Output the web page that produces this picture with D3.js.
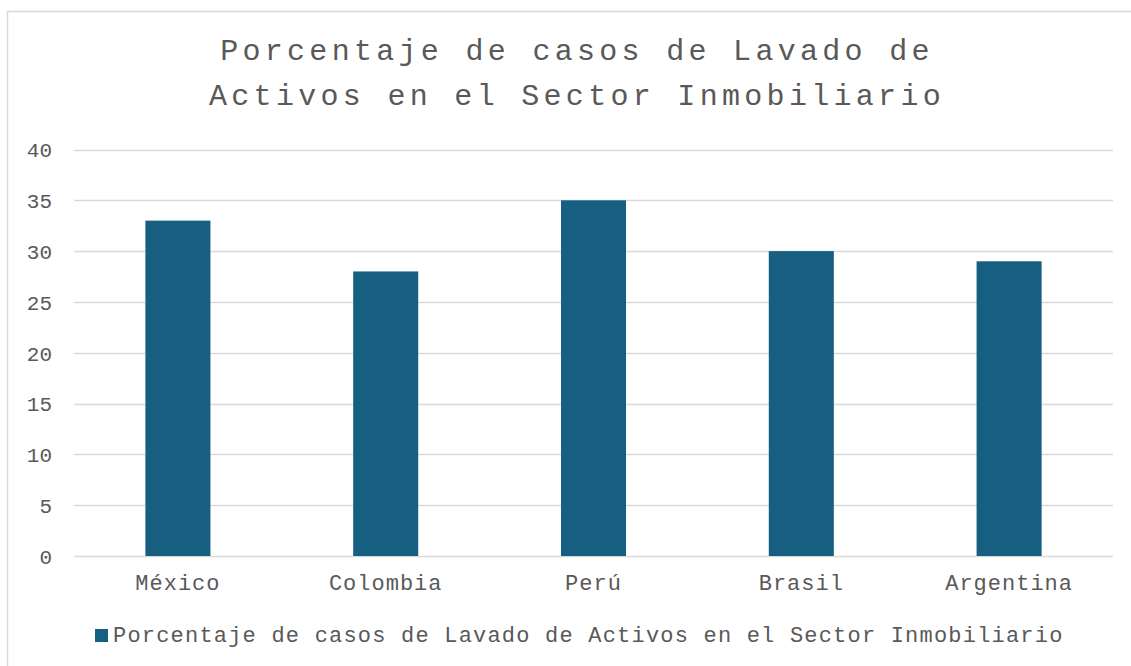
<!DOCTYPE html>
<html>
<head>
<meta charset="utf-8">
<script src="https://cdn.jsdelivr.net/npm/d3@7/dist/d3.min.js"></script>
<style>
  html, body { margin: 0; padding: 0; background: #ffffff; }
  svg { display: block; }
  text { font-family: "Liberation Mono", "Courier New", monospace; fill: #595959; }
</style>
</head>
<body>
<svg id="chart" width="1131" height="666"></svg>
<script>
const categories = ["México", "Colombia", "Perú", "Brasil", "Argentina"];
const values = [33, 28, 35, 30, 29];
const yTicks = [0, 5, 10, 15, 20, 25, 30, 35, 40];
const titleLines = ["Porcentaje de casos de Lavado de", "Activos en el Sector Inmobiliario"];
const seriesName = "Porcentaje de casos de Lavado de Activos en el Sector Inmobiliario";

const svg = d3.select("#chart");
const W = 1131, H = 666;
const barColor = "#165f80";

// outer chart border
svg.append("rect")
  .attr("x", 7.5).attr("y", 11.5)
  .attr("width", W + 10).attr("height", H + 10)
  .attr("fill", "#fff").attr("stroke", "#d9d9d9").attr("stroke-width", 1.5);

const plot = { left: 74, right: 1113, top: 149.5, bottom: 556 };

const x = d3.scaleBand().domain(categories)
  .range([plot.left, plot.right]).paddingInner(0.687).paddingOuter(0.3435);
const y = d3.scaleLinear().domain([0, 40]).range([plot.bottom, plot.top]);

// gridlines
svg.append("g").selectAll("line").data(yTicks).join("line")
  .attr("x1", plot.left).attr("x2", plot.right)
  .attr("y1", d => Math.round(y(d)) + 0.5).attr("y2", d => Math.round(y(d)) + 0.5)
  .attr("stroke", "#d9d9d9").attr("stroke-width", 1.5);

// y axis labels
const yAxis = d3.axisLeft(y).tickValues(yTicks).tickSize(0).tickPadding(0);
const yg = svg.append("g").attr("transform", `translate(52,0)`).call(yAxis);
yg.select(".domain").remove();
yg.selectAll("text").attr("font-size", 21).attr("fill", "#5f5f5f")
  .style("font-family", '"Liberation Mono", monospace').attr("dy", "0.35em");

// bars
svg.append("g").selectAll("rect").data(values).join("rect")
  .attr("x", (d, i) => x(categories[i]))
  .attr("width", x.bandwidth())
  .attr("y", d => y(d))
  .attr("height", d => y(0) - y(d))
  .attr("fill", barColor);

// x axis labels
const xAxis = d3.axisBottom(x).tickSize(0).tickPadding(0);
const xg = svg.append("g").attr("transform", `translate(0,${plot.bottom})`).call(xAxis);
xg.select(".domain").remove();
xg.selectAll("text").attr("font-size", 22).attr("fill", "#5f5f5f")
  .style("font-family", '"Liberation Mono", monospace')
  .style("letter-spacing", "1px")
  .attr("y", 34).attr("dy", 0);

// title
svg.append("g").selectAll("text").data(titleLines).join("text")
  .attr("x", 577).attr("y", (d, i) => 60 + i * 45)
  .attr("text-anchor", "middle")
  .attr("font-size", 30)
  .attr("fill", "#606060")
  .style("letter-spacing", "4.3px")
  .text(d => d);

// legend
svg.append("rect").attr("x", 95).attr("y", 629).attr("width", 13).attr("height", 13).attr("fill", barColor);
svg.append("text").attr("x", 113).attr("y", 642)
  .attr("font-size", 22).attr("fill", "#5f5f5f").style("letter-spacing", "1.2px")
  .text(seriesName);
</script>
</body>
</html>
